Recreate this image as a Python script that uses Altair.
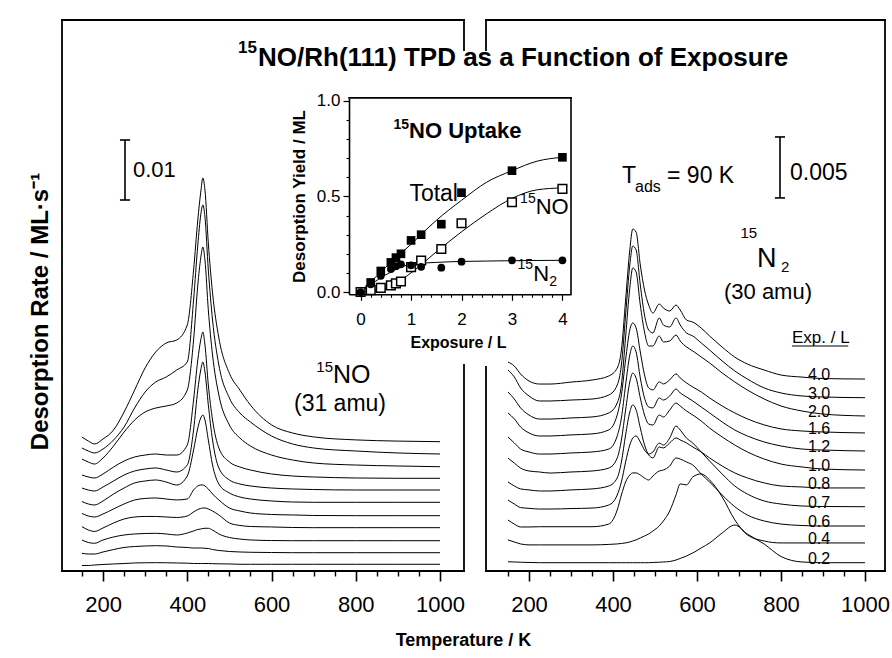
import altair as alt
import pandas as pd

# ------------------------------------------------------------------ data
EXPOSURES = ["0.2", "0.4", "0.6", "0.7", "0.8", "1.0", "1.2", "1.6", "2.0", "3.0", "4.0"]

# Left panel: 15NO (31 amu).  Desorption rate in 1e-3 ML/s above each trace's baseline
T_NO = [150, 165, 180, 200, 225, 250, 275, 300, 325, 350, 375, 400, 415, 425, 432,
        437, 442, 450, 460, 475, 500, 525, 550, 600, 650, 700, 800, 900, 1000]
NO_BASE = [1.12, 3.05, 5.05, 7.22, 9.22, 11.45, 13.5, 15.45, 17.38, 19.5, 21.55]
NO_02 = [-0.2, -0.2, -0.12, -0.03, 0.05, 0.13, 0.22, 0.25, 0.27, 0.25, 0.22, 0.18, 0.13, 0.13, 0.13,
         0.13, 0.13, 0.13, 0.1, 0.08, 0.05, 0, 0, 0, 0, 0, 0, 0, 0]
NO_04 = [-0.1, -0.22, -0.22, 0.12, 0.53, 0.87, 1.03, 1.12, 1.17, 1.12, 0.95, 0.87, 0.78, 0.78, 0.78,
         0.78, 0.73, 0.7, 0.53, 0.37, 0.2, 0.12, 0.07, 0.03, 0, 0, 0, 0, 0]
NO_06 = [0.12, -0.3, -0.43, 0.12, 0.62, 0.95, 1.12, 1.2, 1.23, 1.12, 0.95, 1.28, 1.62, 1.87, 1.95,
         2.03, 2.07, 2.07, 1.78, 1.12, 0.53, 0.28, 0.12, 0.03, 0, 0, 0, 0, 0]
NO_07 = [0.17, -0.38, -0.63, -0.05, 0.78, 1.45, 1.78, 1.87, 1.87, 1.78, 1.7, 1.95, 2.62, 3.03, 3.2,
         3.28, 3.28, 3.12, 2.78, 2.12, 0.78, 0.37, 0.2, 0.12, 0.03, 0, 0, 0, 0]
NO_08 = [0.37, -0.05, -0.22, 0.28, 1.12, 1.95, 2.62, 2.87, 2.95, 2.78, 2.62, 2.78, 4.28, 4.95, 5.12,
         5.12, 4.95, 4.45, 3.62, 2.62, 1.28, 0.78, 0.45, 0.2, 0.12, 0.03, 0, 0, 0]
NO_10 = [0.13, -0.28, -0.45, 0.22, 1.38, 2.38, 3.22, 3.55, 3.72, 3.38, 2.88, 4.38, 8.72, 12.38, 14.05,
         14.55, 13.72, 10.38, 6.22, 3.05, 1.55, 0.88, 0.55, 0.22, 0.05, 0, 0, 0, 0]
NO_12 = [0.33, 0, -0.17, 0.5, 1.5, 2.5, 3.17, 3.5, 3.67, 3.33, 3.0, 4.17, 10.0, 16.67, 20.0,
         21.33, 19.67, 14.17, 8.33, 3.67, 1.67, 1.0, 0.67, 0.33, 0.17, 0.08, 0, 0, 0]
NO_16 = [0.55, 0.22, 0.05, 0.72, 1.88, 2.88, 3.55, 3.88, 4.05, 3.88, 3.88, 5.55, 13.05, 19.72, 23.05,
         24.38, 22.22, 15.55, 9.72, 5.05, 2.72, 1.88, 1.38, 0.72, 0.38, 0.22, 0.05, 0, 0]
NO_20 = [1.28, 0.78, 0.45, 1.45, 3.45, 5.78, 7.78, 9.12, 9.78, 10.12, 10.62, 12.78, 21.12, 30.28, 34.78,
         36.62, 34.45, 26.12, 18.62, 11.95, 6.95, 4.78, 3.45, 1.95, 1.12, 0.62, 0.28, 0.12, 0]
NO_30 = [1.0, 0.5, 0.17, 0.83, 2.33, 4.5, 7.67, 10.33, 12.0, 12.83, 14.0, 15.33, 25.67, 34.83, 39.83,
         41.5, 39.5, 30.67, 22.33, 14.83, 9.33, 6.83, 5.33, 3.0, 1.67, 1.0, 0.5, 0.17, 0]
NO_40 = [0.78, 0.12, -0.38, 0.45, 1.95, 4.95, 8.6, 12.3, 14.95, 16.45, 16.95, 19.45, 28.6, 36.95, 41.6,
         43.95, 41.95, 33.1, 24.8, 17.3, 11.4, 8.6, 6.1, 2.8, 1.45, 0.8, 0.3, 0.1, 0]
NO_TRACES = [NO_02, NO_04, NO_06, NO_07, NO_08, NO_10, NO_12, NO_16, NO_20, NO_30, NO_40]

# Right panel: 15N2 (30 amu).  Desorption rate in 1e-3 ML/s above each trace's baseline
T_N2 = [150, 165, 180, 200, 225, 250, 300, 350, 390, 410, 420, 430, 440, 447, 455, 465, 475, 485,
        495, 510, 520, 535, 550, 560, 575, 590, 610, 630, 660, 690, 720, 760, 800, 850, 900, 1000]
N2_BASE = [0.68, 2.30, 3.69, 5.27, 6.81, 8.28, 9.84, 11.32, 12.71, 14.21, 15.74]
N2_02 = [0.08, 0.06, 0.04, 0.02, 0, 0, 0, 0, 0, 0, 0, 0, 0, 0, 0, 0, 0, 0,
         0.02, 0.04, 0.06, 0.1, 0.22, 0.35, 0.55, 0.8, 1.21, 1.62, 2.44, 3.09, 2.35, 1.53, 0.51, 0.06, 0, 0]
N2_04 = [0.25, 0.08, -0.08, -0.16, -0.16, -0.16, -0.16, -0.16, -0.12, -0.08, -0.04, 0, 0.08, 0.16, 0.25, 0.41, 0.57, 0.74,
         0.98, 1.39, 1.8, 2.62, 3.94, 4.84, 4.76, 5.41, 5.66, 5.17, 3.77, 1.89, 0.66, 0.16, 0, 0, 0, 0]
N2_06 = [0.49, 0.16, -0.08, -0.08, -0.06, -0.06, -0.06, -0.06, 0.16, 1.31, 2.54, 3.61, 4.18, 4.35, 4.35, 4.18, 3.94, 3.77,
         4.1, 4.51, 4.59, 4.92, 5.58, 5.49, 5.25, 5.0, 4.26, 3.61, 2.54, 1.58, 0.9, 0.41, 0.16, 0.04, 0, 0]
N2_07 = [0.55, 0.22, -0.07, -0.13, -0.19, -0.19, -0.15, -0.11, 0.14, 0.96, 2.03, 3.67, 5.06, 5.63, 5.8, 5.31, 4.65, 4.32,
         4.49, 5.22, 5.06, 5.63, 6.62, 6.29, 5.63, 5.22, 4.49, 3.75, 2.68, 1.7, 1.04, 0.47, 0.22, 0.06, 0.02, 0]
N2_08 = [0.49, 0.16, -0.08, -0.16, -0.25, -0.25, -0.16, -0.08, 0.16, 0.82, 2.13, 4.35, 6.23, 6.81, 6.4, 4.92, 3.53, 2.71,
         2.46, 3.36, 3.28, 3.69, 4.1, 3.94, 3.69, 3.36, 2.95, 2.46, 1.8, 1.23, 0.82, 0.41, 0.16, 0.08, 0, 0]
N2_10 = [0.98, 0.57, 0.16, -0.08, -0.16, -0.25, -0.16, -0.08, 0.16, 0.98, 2.46, 4.92, 7.22, 7.95, 7.54, 5.9, 4.51, 3.77,
         3.69, 4.51, 4.35, 4.92, 5.49, 5.25, 4.84, 4.51, 4.02, 3.44, 2.71, 2.05, 1.48, 0.9, 0.49, 0.25, 0.08, 0]
N2_12 = [1.15, 0.66, 0.16, -0.08, -0.25, -0.25, -0.16, -0.08, 0.16, 1.23, 2.71, 5.41, 7.87, 8.61, 8.12, 5.99, 4.35, 3.61,
         3.53, 4.35, 4.18, 4.51, 5.08, 4.76, 4.43, 4.1, 3.61, 3.12, 2.38, 1.72, 1.23, 0.74, 0.41, 0.16, 0.08, 0]
N2_16 = [1.64, 1.15, 0.49, 0, -0.25, -0.25, -0.16, -0.08, 0.25, 1.48, 3.12, 5.99, 8.45, 9.02, 8.61, 6.64, 4.76, 3.69,
         3.53, 4.18, 4.02, 4.35, 4.84, 4.51, 4.1, 3.77, 3.36, 2.87, 2.21, 1.64, 1.15, 0.66, 0.33, 0.16, 0.08, 0]
N2_20 = [1.97, 1.39, 0.66, 0.08, -0.25, -0.25, -0.16, -0.08, 0.25, 1.07, 2.54, 6.48, 10.5, 12.14, 11.81, 9.1, 6.89, 5.74,
         5.74, 6.56, 6.07, 6.15, 6.64, 6.15, 5.66, 5.33, 4.84, 4.35, 3.53, 2.79, 2.13, 1.39, 0.82, 0.41, 0.16, 0]
N2_30 = [2.27, 1.7, 0.8, 0.14, -0.27, -0.27, -0.19, -0.11, 0.22, 1.04, 2.68, 6.78, 10.88, 12.44, 12.11, 9.24, 6.78, 5.55,
         5.31, 6.54, 5.96, 5.8, 6.54, 5.96, 5.31, 5.06, 4.49, 3.91, 3.01, 2.19, 1.53, 0.8, 0.39, 0.14, 0.06, 0]
N2_40 = [1.39, 1.07, 0.41, -0.16, -0.41, -0.41, -0.25, -0.08, 0.25, 0.9, 2.38, 6.48, 10.58, 12.3, 12.05, 9.35, 7.3, 6.07,
         5.41, 6.15, 5.82, 5.58, 6.07, 5.66, 4.84, 4.67, 4.18, 3.53, 2.62, 1.8, 1.23, 0.74, 0.33, 0.16, 0.04, 0]
N2_TRACES = [N2_02, N2_04, N2_06, N2_07, N2_08, N2_10, N2_12, N2_16, N2_20, N2_30, N2_40]

# Inset: 15NO uptake
UP_EXPOSURE = [0, 0.2, 0.4, 0.6, 0.7, 0.8, 1.0, 1.2, 1.6, 2.0, 3.0, 4.0]
UP_TOTAL = [0.0, 0.05, 0.11, 0.155, 0.18, 0.20, 0.27, 0.30, 0.355, 0.52, 0.635, 0.705]
UP_NO = [0.0, 0.01, 0.022, 0.035, 0.045, 0.055, 0.13, 0.165, 0.225, 0.36, 0.47, 0.54]
UP_N2 = [0.0, 0.04, 0.085, 0.12, 0.135, 0.145, 0.14, 0.132, 0.127, 0.159, 0.166, 0.166]
FIT_EXPOSURE = [0, 0.5, 1.0, 1.5, 2.0, 2.5, 3.0, 3.5, 4.0]
FIT_TOTAL = [0.0, 0.13, 0.25, 0.375, 0.48, 0.575, 0.635, 0.685, 0.705]
FIT_NO = [0.0, 0.02, 0.10, 0.21, 0.315, 0.41, 0.49, 0.535, 0.545]
FIT_N2 = [0.0, 0.09, 0.145, 0.155, 0.16, 0.162, 0.164, 0.165, 0.166]

# tick values
T_MAJOR = [200, 400, 600, 800, 1000]
T_MINOR = [150, 250, 300, 350, 450, 500, 550, 650, 700, 750, 850, 900, 950]
E_MAJOR = [0, 1, 2, 3, 4]
E_MINOR = [0.2, 0.4, 0.6, 0.8, 1.2, 1.4, 1.6, 1.8, 2.2, 2.4, 2.6, 2.8, 3.2, 3.4, 3.6, 3.8]
Y_MAJOR = [0.0, 0.5, 1.0]
Y_MINOR = [0.1, 0.2, 0.3, 0.4, 0.6, 0.7, 0.8, 0.9]


def traces(T, sigs, bases):
    rows = []
    for e, s, b in zip(EXPOSURES, sigs, bases):
        for t, v in zip(T, s):
            rows.append({"T": t, "rate": round(b + v, 4), "exp": e})
    return pd.DataFrame(rows)


dfL = traces(T_NO, NO_TRACES, NO_BASE)
dfR = traces(T_N2, N2_TRACES, N2_BASE)

# ------------------------------------------------------------------ layout
FONT = "Liberation Sans"
BOT, TOP = 571, 20
L0, L1 = 62, 464
R0, R1 = 486, 885
I0, I1, IB, IT = 349, 571, 294.3, 97.9

xL = alt.Scale(domain=[102.6, 1057.0], range=[L0, L1], nice=False, zero=False)
yL = alt.Scale(domain=[0, 91.83], range=[BOT, TOP], nice=False, zero=False)
xR = alt.Scale(domain=[97.6, 1050.0], range=[R0, R0 + 400], nice=False, zero=False)
yR = alt.Scale(domain=[0, 45.18], range=[BOT, TOP], nice=False, zero=False)
xI = alt.Scale(domain=[-0.23, 4.17], range=[I0, I1], nice=False, zero=False)
yI = alt.Scale(domain=[-0.012, 1.016], range=[IB, IT], nice=False, zero=False)

ONE = pd.DataFrame({"k": [0]})
AX = dict(tickColor="black", grid=False, labelFont=FONT, labelColor="black", labelFlush=False,
          labelOverlap=False, titleFont=FONT, titleColor="black")


def temp_major(**extra):
    return alt.Axis(orient="bottom", offset=0, values=T_MAJOR, format="d", tickSize=10, tickWidth=1.6,
                    domain=False, labelFontSize=22, labelPadding=13, **AX, **extra)


def temp_minor():
    return alt.Axis(orient="bottom", offset=0, values=T_MINOR, tickSize=5, tickWidth=1.4,
                    domain=False, labels=False, title=None, **AX)


def text_at(xs, ys, x, y, text, **mk):
    df = pd.DataFrame({"x": [x], "y": [y], "t": [text]})
    props = dict(font=FONT, color="black")
    props.update(mk)
    return alt.Chart(df).mark_text(**props).encode(
        x=alt.X("x:Q", scale=xs, axis=None), y=alt.Y("y:Q", scale=ys, axis=None), text="t:N")


def bar_at(xs, ys, x, y1, y2, half, x_axis=None):
    df = pd.DataFrame({"x": [x], "xa": [x - half], "xb": [x + half], "y1": [y1], "y2": [y2]})
    vert = alt.Chart(df).mark_rule(color="black", strokeWidth=1.6).encode(
        x=alt.X("x:Q", scale=xs, axis=x_axis), y=alt.Y("y1:Q", scale=ys, axis=None), y2="y2:Q")
    caps = [alt.Chart(df).mark_rule(color="black", strokeWidth=1.6).encode(
        x=alt.X("xa:Q", scale=xs, axis=None), x2="xb:Q", y=alt.Y(f"{c}:Q", scale=ys, axis=None))
        for c in ("y1", "y2")]
    return [vert] + caps


# ------------------------------------------------------------------ left panel (15NO)
left_lines = alt.Chart(dfL).mark_line(color="black", strokeWidth=1, interpolate="monotone").encode(
    x=alt.X("T:Q", scale=xL, axis=temp_major(
        title="Temperature / K", titleFontSize=18, titleFontWeight="bold",
        titleX=463, titleY=69, titleAlign="center", titleBaseline="middle")),
    y=alt.Y("rate:Q", scale=yL, axis=alt.Axis(
        orient="left", offset=-L0, domain=False, ticks=False, labels=False,
        title="Desorption Rate / ML·s⁻¹", titleFontSize=24, titleFontWeight="bold",
        titleAngle=270, titleX=-22, titleY=311, titleAlign="center", titleBaseline="middle", **AX)),
    detail="exp:N",
)
left_units = [
    left_lines,
    *bar_at(xL, yL, 252.2, 61.83, 71.83, 12, x_axis=temp_minor()),
    text_at(xL, yL, 271.0, 66.8, "0.01", fontSize=22, align="left", baseline="middle"),
    text_at(xL, yL, 746.0, 33.2, "15", fontSize=15, align="right", baseline="alphabetic"),
    text_at(xL, yL, 746.0, 31.3, "NO", fontSize=25, align="left", baseline="alphabetic"),
    text_at(xL, yL, 762.6, 27.8, "(31 amu)", fontSize=23, align="center", baseline="middle"),
]

# ------------------------------------------------------------------ right panel (15N2)
right_lines = alt.Chart(dfR).mark_line(color="black", strokeWidth=1, interpolate="monotone").encode(
    x=alt.X("T:Q", scale=xR, axis=temp_major(title=None)),
    y=alt.Y("rate:Q", scale=yR, axis=None),
    detail="exp:N",
)
dfLab = pd.DataFrame({"exp": EXPOSURES, "rate": [b - 0.08 for b in N2_BASE], "T": [864.0] * len(EXPOSURES)})
exp_labels = alt.Chart(dfLab).mark_text(font=FONT, fontSize=16, color="black", align="left",
                                        baseline="alphabetic").encode(
    x=alt.X("T:Q", scale=xR, axis=None), y=alt.Y("rate:Q", scale=yR, axis=None), text="exp:N")
dfUl = pd.DataFrame({"a": [826.0], "b": [960.0], "y": [18.45]})
underline = alt.Chart(dfUl).mark_rule(color="black", strokeWidth=1).encode(
    x=alt.X("a:Q", scale=xR, axis=None), x2="b:Q", y=alt.Y("y:Q", scale=yR, axis=None))
right_units = [
    right_lines, exp_labels, underline,
    *bar_at(xR, yR, 797.6, 30.59, 35.59, 12, x_axis=temp_minor()),
    text_at(xR, yR, 821.4, 32.64, "0.005", fontSize=23, align="left", baseline="middle"),
    text_at(xR, yR, 421.4, 31.82, "T", fontSize=23, align="left", baseline="alphabetic"),
    text_at(xR, yR, 452.4, 31.08, "ads", fontSize=16, align="left", baseline="alphabetic"),
    text_at(xR, yR, 528.6, 31.82, "= 90 K", fontSize=23, align="left", baseline="alphabetic"),
    text_at(xR, yR, 743.0, 27.3, "15", fontSize=15, align="right", baseline="alphabetic"),
    text_at(xR, yR, 743.0, 24.93, "N", fontSize=27, align="left", baseline="alphabetic"),
    text_at(xR, yR, 800.0, 24.5, "2", fontSize=15, align="left", baseline="alphabetic"),
    text_at(xR, yR, 769.0, 22.9, "(30 amu)", fontSize=22, align="center", baseline="middle"),
    text_at(xR, yR, 826.2, 19.11, "Exp. / L", fontSize=17, align="left", baseline="middle"),
]

# ------------------------------------------------------------------ inset (uptake)
fit_rows = []
for name, ys in (("Total", FIT_TOTAL), ("NO", FIT_NO), ("N2", FIT_N2)):
    for e, v in zip(FIT_EXPOSURE, ys):
        fit_rows.append({"e": e, "v": v, "s": name})
dfFit = pd.DataFrame(fit_rows)
dfUp = pd.DataFrame({"e": UP_EXPOSURE, "tot": UP_TOTAL, "no": UP_NO, "n2": UP_N2})

IOFF = -(BOT - IB)
inset_x_major = alt.Axis(
    orient="bottom", offset=IOFF, values=E_MAJOR, format="d", tickSize=6, tickWidth=1.2,
    domain=True, domainColor="black", domainWidth=1.6, labelFontSize=17, labelPadding=11,
    title="Exposure / L", titleFontSize=16, titleFontWeight="bold",
    titleX=458, titleY=48, titleAlign="center", titleBaseline="middle", zindex=1, **AX)
inset_x_minor = alt.Axis(
    orient="bottom", offset=IOFF, values=E_MINOR, tickSize=3, tickWidth=1.1, domain=False,
    labels=False, title=None, zindex=1, **AX)
inset_y_major = alt.Axis(
    orient="left", offset=-I0, values=Y_MAJOR, format=".1f", tickSize=6, tickWidth=1.2,
    domain=True, domainColor="black", domainWidth=1.6, labelFontSize=17, labelPadding=3,
    title="Desorption Yield / ML", titleFontSize=17, titleFontWeight="bold", titleAngle=270,
    titleX=-50, titleY=196, titleAlign="center", titleBaseline="middle", zindex=1, **AX)
inset_y_minor = alt.Axis(
    orient="left", offset=-I0, values=Y_MINOR, tickSize=3, tickWidth=1.1, domain=False,
    labels=False, title=None, zindex=1, **AX)

fits = alt.Chart(dfFit).mark_line(color="black", strokeWidth=1, interpolate="monotone").encode(
    x=alt.X("e:Q", scale=xI, axis=inset_x_major), y=alt.Y("v:Q", scale=yI, axis=inset_y_major),
    detail="s:N")
pts_tot = alt.Chart(dfUp).mark_square(size=75, color="black", opacity=1).encode(
    x=alt.X("e:Q", scale=xI, axis=inset_x_minor), y=alt.Y("tot:Q", scale=yI, axis=inset_y_minor))
pts_no = alt.Chart(dfUp).mark_square(size=75, filled=True, fill="white", stroke="black", strokeWidth=1.5,
                                     opacity=1).encode(
    x=alt.X("e:Q", scale=xI, axis=None), y=alt.Y("no:Q", scale=yI, axis=None))
pts_n2 = alt.Chart(dfUp).mark_circle(size=60, color="black", opacity=1).encode(
    x=alt.X("e:Q", scale=xI, axis=None), y=alt.Y("n2:Q", scale=yI, axis=None))
inset_units = [
    fits, pts_tot, pts_no, pts_n2,
    text_at(xI, yI, 0.96, 0.874, "15", fontSize=14, fontWeight="bold", align="right", baseline="middle"),
    text_at(xI, yI, 0.96, 0.843, "NO Uptake", fontSize=22, fontWeight="bold", align="left", baseline="middle"),
    text_at(xI, yI, 1.93, 0.513, "Total", fontSize=23, align="right", baseline="middle"),
    text_at(xI, yI, 3.47, 0.485, "15", fontSize=14, align="right", baseline="middle"),
    text_at(xI, yI, 3.47, 0.445, "NO", fontSize=22, align="left", baseline="middle"),
    text_at(xI, yI, 3.42, 0.141, "15", fontSize=14, align="right", baseline="middle"),
    text_at(xI, yI, 3.42, 0.094, "N", fontSize=22, align="left", baseline="middle"),
    text_at(xI, yI, 3.74, 0.052, "2", fontSize=14, align="left", baseline="middle"),
]

# ------------------------------------------------------------------ frames and title


def hline(x1, x2, y, w=1.8):
    return alt.Chart(ONE).mark_rule(color="black", strokeWidth=w, strokeCap="square").encode(
        x=alt.value(x1), x2=alt.value(x2), y=alt.value(y))


def vline(x, y1, y2, w=1.8):
    return alt.Chart(ONE).mark_rule(color="black", strokeWidth=w, strokeCap="square").encode(
        x=alt.value(x), y=alt.value(y1), y2=alt.value(y2))


frames = [
    hline(L0, L1, TOP), hline(L0, L1, BOT), vline(L0, TOP, BOT), vline(L1, TOP, 50), vline(L1, 365, BOT),
    hline(R0, R1, TOP), hline(R0, R1, BOT), vline(R1, TOP, BOT), vline(R0, TOP, 50), vline(R0, 367, BOT),
    hline(I0, I1, IT, 1.6), vline(I1, IT, IB, 1.6),
]
title_sup = alt.Chart(ONE).mark_text(font=FONT, fontSize=17, fontWeight="bold", color="black",
                                     align="right", baseline="alphabetic").encode(
    x=alt.value(257), y=alt.value(53), text=alt.value("15"))
title_main = alt.Chart(ONE).mark_text(font=FONT, fontSize=26, fontWeight="bold", color="black",
                                      align="left", baseline="alphabetic").encode(
    x=alt.value(258), y=alt.value(66), text=alt.value("NO/Rh(111) TPD as a Function of Exposure"))

chart = alt.layer(*left_units, *right_units, *inset_units, *frames, title_sup, title_main).resolve_scale(
    x="independent", y="independent"
).properties(
    width=892, height=BOT, background="white",
    autosize=alt.AutoSizeParams(type="none"),
    padding={"left": 0, "top": 0, "right": 0, "bottom": 658 - BOT},
).configure_view(stroke=None)

chart.save("out.html", embed_options={"renderer": "svg", "actions": False})
